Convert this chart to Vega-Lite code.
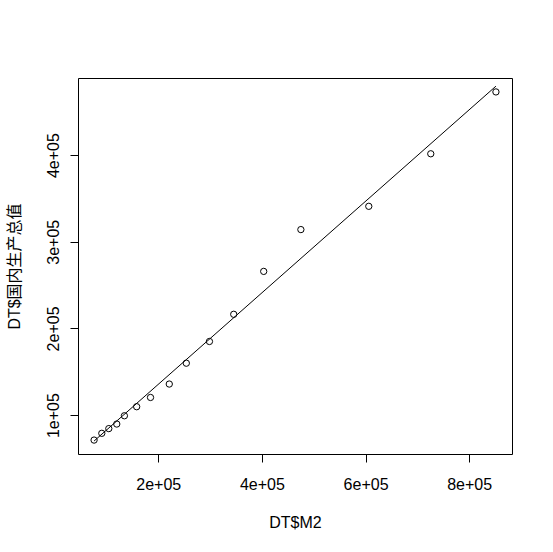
{
  "$schema": "https://vega.github.io/schema/vega-lite/v6.json",
  "width": 434,
  "height": 376,
  "autosize": {"type": "none"},
  "padding": {"left": 78, "top": 78, "right": 41, "bottom": 98},
  "background": "white",
  "config": {
    "view": {"stroke": "black", "strokeWidth": 1},
    "font": "Liberation Sans, Noto Sans CJK SC"
  },
  "data": {
    "values": [
      {"M2": 76094.9, "GDP": 71176.6},
      {"M2": 90995.3, "GDP": 78973.0},
      {"M2": 104498.5, "GDP": 84402.3},
      {"M2": 119897.9, "GDP": 89677.1},
      {"M2": 134610.3, "GDP": 99214.6},
      {"M2": 158301.9, "GDP": 109655.2},
      {"M2": 185007.0, "GDP": 120332.7},
      {"M2": 221222.8, "GDP": 135822.8},
      {"M2": 254107.0, "GDP": 159878.3},
      {"M2": 298755.7, "GDP": 184937.4},
      {"M2": 345603.6, "GDP": 216314.4},
      {"M2": 403442.2, "GDP": 265810.3},
      {"M2": 475166.6, "GDP": 314045.4},
      {"M2": 606225.0, "GDP": 340902.8},
      {"M2": 725851.8, "GDP": 401512.8},
      {"M2": 851590.9, "GDP": 472881.6}
    ]
  },
  "encoding": {
    "x": {
      "field": "M2",
      "type": "quantitative",
      "scale": {"domain": [45075, 882611], "nice": false, "zero": false},
      "axis": {
        "title": "DT$M2",
        "values": [200000, 400000, 600000, 800000],
        "labelExpr": "format(datum.value/100000,'d') + 'e+05'",
        "domain": false,
        "grid": false,
        "tickColor": "black",
        "tickSize": 8,
        "labelPadding": 14,
        "labelFont": "Liberation Sans",
        "labelFontSize": 16,
        "labelColor": "black",
        "labelBaseline": "top",
        "labelFlush": false,
        "titleFont": "Liberation Sans",
        "titleFontSize": 16,
        "titleFontWeight": "normal",
        "titleColor": "black",
        "titleBaseline": "middle",
        "titleY": 68
      }
    },
    "y": {
      "field": "GDP",
      "type": "quantitative",
      "scale": {"domain": [55109, 488950], "nice": false, "zero": false},
      "axis": {
        "title": "DT$国内生产总值",
        "values": [100000, 200000, 300000, 400000],
        "labelExpr": "format(datum.value/100000,'d') + 'e+05'",
        "domain": false,
        "grid": false,
        "tickColor": "black",
        "tickSize": 8,
        "labelPadding": 12,
        "labelFont": "Liberation Sans",
        "labelFontSize": 16,
        "labelColor": "black",
        "labelAngle": 270,
        "labelAlign": "center",
        "labelBaseline": "alphabetic",
        "labelFlush": false,
        "titleFont": "Liberation Sans, Noto Sans CJK SC",
        "titleFontSize": 16,
        "titleFontWeight": "normal",
        "titleColor": "black",
        "titleAngle": 270,
        "titleBaseline": "middle",
        "titleX": -64
      }
    }
  },
  "layer": [
    {
      "mark": {"type": "point", "shape": "circle", "filled": false, "color": "black", "size": 40, "strokeWidth": 1, "opacity": 1}
    },
    {
      "transform": [{"regression": "GDP", "on": "M2"}],
      "mark": {"type": "line", "color": "black", "strokeWidth": 1}
    }
  ]
}
